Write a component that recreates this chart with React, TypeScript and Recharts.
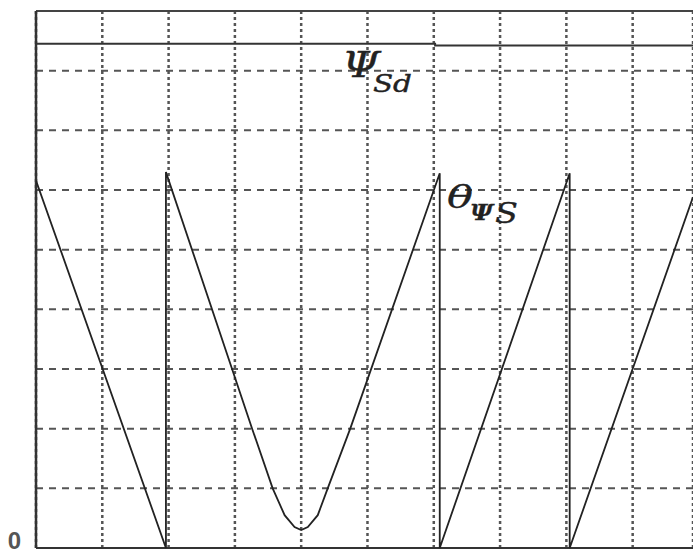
import React from "react";
import {
  LineChart,
  Line,
  XAxis,
  YAxis,
  CartesianGrid,
  ReferenceLine,
  ReferenceDot,
} from "recharts";

// grid divisions
const xTicks = [0, 1, 2, 3, 4, 5, 6, 7, 8, 9];
const yTicks = [0, 1, 2, 3, 4, 5, 6, 7, 8, 9];

// theta_psiS sawtooth
const thetaX = [0, 1.96, 1.96, 3.26, 3.57, 3.75, 3.9, 4.0, 4.1, 4.25, 4.4, 4.74, 6.09, 6.09, 8.05, 8.05, 9.91];
const thetaY = [6.16, 0, 6.3, 2.0, 1.0, 0.55, 0.35, 0.3, 0.35, 0.55, 1.0, 2.0, 6.28, 0, 6.28, 0, 5.88];

// psi_Sd flux reference (tiny step near x=6)
const psiX = [0, 6.02, 6.02, 9.91];
const psiY = [8.45, 8.45, 8.42, 8.42];

const thetaData = thetaX.map((x, i) => ({ x, y: thetaY[i] }));
const psiData = psiX.map((x, i) => ({ x, y: psiY[i] }));

const ink = "#222";
const gridInk = "#555";
const serif = "'DejaVu Serif', 'Liberation Serif', serif";
const stretch = "spacingAndGlyphs";

export default function App() {
  return (
    <div style={{ position: "absolute", left: 0, top: 0, background: "#fff" }}>
      <LineChart
        width={693}
        height={555}
        margin={{ top: 11, right: 0, bottom: 7, left: 36 }}
      >
        <XAxis
          type="number"
          dataKey="x"
          domain={[0, 9.91]}
          ticks={xTicks}
          hide
          allowDataOverflow
        />
        <YAxis type="number" domain={[0, 9]} ticks={yTicks} hide width={0} />
        {/* dashed horizontals */}
        <CartesianGrid
          vertical={false}
          stroke={gridInk}
          strokeWidth={2}
          strokeDasharray="7 6"
        />
        {/* dotted verticals */}
        <CartesianGrid
          horizontal={false}
          stroke={gridInk}
          strokeWidth={2.5}
          strokeDasharray="3 3"
        />
        <ReferenceLine y={9} stroke="#444" strokeWidth={2} />
        <ReferenceLine y={0} stroke="#333" strokeWidth={2} />
        <ReferenceLine x={0} stroke="#333" strokeWidth={2.5} />

        <Line
          data={psiData}
          dataKey="y"
          type="linear"
          stroke="#333"
          strokeWidth={2}
          dot={false}
          isAnimationActive={false}
        />
        <Line
          data={thetaData}
          dataKey="y"
          type="linear"
          stroke={ink}
          strokeWidth={1.8}
          dot={false}
          isAnimationActive={false}
        />

        <ReferenceDot
          x={4.585}
          y={7.87}
          r={0}
          ifOverflow="visible"
          shape={(p: any) => (
            <g fontFamily={serif} fontStyle="italic" fill={ink} stroke={ink} strokeWidth={0.4}>
              <text x={p.cx + 2} y={p.cy - 1} fontSize={36} textLength={38} lengthAdjust={stretch}>
                Ψ
              </text>
              <text x={p.cx + 33} y={p.cy + 14} fontSize={25} textLength={39} lengthAdjust={stretch}>
                Sd
              </text>
            </g>
          )}
        />
        <ReferenceDot
          x={6.2}
          y={5.63}
          r={0}
          ifOverflow="visible"
          shape={(p: any) => (
            <g fontFamily={serif} fontStyle="italic" fill={ink} stroke={ink} strokeWidth={0.3}>
              <text x={p.cx} y={p.cy - 4} fontSize={31} textLength={26} lengthAdjust={stretch}>
                θ
              </text>
              <text x={p.cx + 23} y={p.cy + 8} fontSize={22} fontWeight="bold" textLength={23} lengthAdjust={stretch}>
                Ψ
              </text>
              <text x={p.cx + 48} y={p.cy + 11} fontSize={27} textLength={23} lengthAdjust={stretch}>
                S
              </text>
            </g>
          )}
        />
        <ReferenceDot
          x={0}
          y={0}
          r={0}
          ifOverflow="visible"
          shape={(p: any) => (
            <text
              x={p.cx - 15}
              y={p.cy + 1}
              textAnchor="end"
              fontFamily="'Liberation Sans', Arial, sans-serif"
              fontWeight="bold"
              fontSize={24}
              fill="#555"
            >
              0
            </text>
          )}
        />
      </LineChart>
    </div>
  );
}
